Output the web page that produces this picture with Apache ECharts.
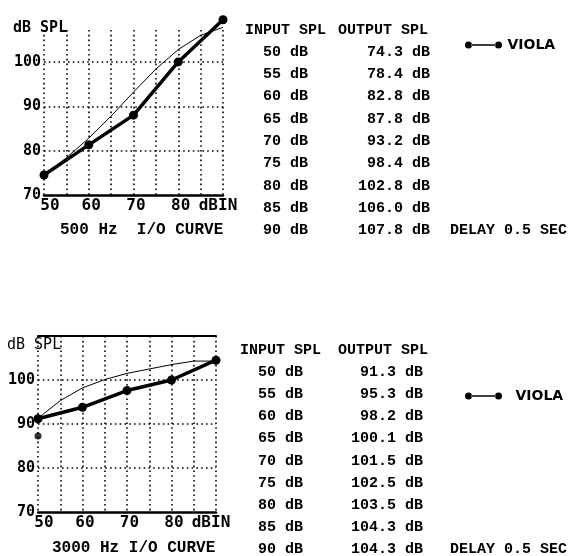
<!DOCTYPE html>
<html>
<head>
<meta charset="utf-8">
<script src="https://cdn.jsdelivr.net/npm/echarts@6/dist/echarts.min.js"></script>
<style>
  html, body { margin: 0; padding: 0; background: #fff; }
  #chart { width: 578px; height: 556px; }
</style>
</head>
<body>
<div id="chart"></div>
<script>
// Input levels of the I/O table (dB SPL in)
const inputLevels = [50, 55, 60, 65, 70, 75, 80, 85, 90];
// Target output SPL at 500 Hz and 3000 Hz
const output500 = [74.3, 78.4, 82.8, 87.8, 93.2, 98.4, 102.8, 106.0, 107.8];
const output3000 = [91.3, 95.3, 98.2, 100.1, 101.5, 102.5, 103.5, 104.3, 104.3];
// Measured VIOLA curve points
const violaInputs = [50, 60, 70, 80, 90];
const viola500 = [74.5, 81.3, 88.0, 100.0, 109.5];
const viola3000 = [91.2, 93.8, 97.6, 100.0, 104.5];
const viola3000Extra = [[50, 87.3]];
// Axis tick labels
const xTickLabels = { 50: '50', 60: '60', 70: '70', 80: '80', 90: 'dBIN' };
const yTickLabels = { 70: '70', 80: '80', 90: '90', 100: '100' };
const curveTitles = ['500 Hz  I/O CURVE', '3000 Hz I/O CURVE'];
const delayText = 'DELAY 0.5 SEC';

const BLACK = '#000';
const MONO = "'DejaVu Sans Mono', monospace";
const TABLE_FONT = "bold 15px 'Liberation Mono', monospace";

function pairs(xs, ys) { return xs.map((x, i) => [x, ys[i]]); }

function xAxisFor(grid) {
  return {
    type: 'value', gridIndex: grid, min: 50, max: 90, interval: 5,
    axisLine: { show: true, onZero: false, lineStyle: { color: BLACK, width: 2.5 } },
    axisTick: { show: false },
    splitLine: { show: true, lineStyle: { color: BLACK, width: 1.6, type: [1.6, 3.2] } },
    axisLabel: {
      margin: 3, color: BLACK, fontFamily: MONO, fontWeight: 'bold', fontSize: 16,
      showMinLabel: true, showMaxLabel: true,
      formatter: v => {
        const t = xTickLabels[v];
        if (!t) return '';
        if (v === 50) return '{first|' + t + '}';
        if (v === 90) return '{last|' + t + '}';
        return '{mid|' + t + '}';
      },
      rich: {
        first: { padding: [0, 0, 0, 12], fontFamily: MONO, fontWeight: 'bold', fontSize: 16, color: BLACK },
        mid: { padding: [0, 0, 0, 5], fontFamily: MONO, fontWeight: 'bold', fontSize: 16, color: BLACK },
        last: { padding: [0, 10, 0, 0], fontFamily: MONO, fontWeight: 'bold', fontSize: 16, color: BLACK }
      }
    }
  };
}

function yAxisFor(grid, max) {
  return {
    type: 'value', gridIndex: grid, min: 70, max: max, interval: 10,
    axisLine: { show: false },
    axisTick: { show: false },
    splitLine: { show: true, showMinLine: false, showMaxLine: false,
      lineStyle: { color: BLACK, width: 1.6, type: [1.6, 3.2] } },
    axisLabel: {
      margin: 3, color: BLACK, fontFamily: MONO, fontWeight: 'bold', fontSize: 15,
      showMaxLabel: false,
      formatter: v => yTickLabels[v] || ''
    }
  };
}

// Table of input / output levels, one row per input level
function tableGraphics(outputs, inputX, outputRight, headerY, rowY0, rowStep) {
  const els = [
    { type: 'text', x: inputX - 18, y: headerY, style: { text: 'INPUT SPL', font: TABLE_FONT, fill: BLACK, verticalAlign: 'middle' } },
    { type: 'text', x: 338, y: headerY, style: { text: 'OUTPUT SPL', font: TABLE_FONT, fill: BLACK, verticalAlign: 'middle' } }
  ];
  inputLevels.forEach((lv, i) => {
    const y = rowY0 + i * rowStep;
    els.push({ type: 'text', x: inputX, y: y, style: { text: lv + ' dB', font: TABLE_FONT, fill: BLACK, verticalAlign: 'middle' } });
    els.push({ type: 'text', x: outputRight, y: y, style: { text: outputs[i].toFixed(1) + ' dB', font: TABLE_FONT, fill: BLACK, align: 'right', verticalAlign: 'middle' } });
  });
  els.push({ type: 'text', x: 450, y: rowY0 + 8 * rowStep, style: { text: delayText, font: TABLE_FONT, fill: BLACK, verticalAlign: 'middle' } });
  return els;
}

// Legend glyph: dot, connecting line, dot
const legendIcon = 'path://M0.5,4a3.5,3.5 0 1,0 7,0a3.5,3.5 0 1,0 -7,0Z M7,3.3H31V4.7H7Z M30.5,4a3.5,3.5 0 1,0 7,0a3.5,3.5 0 1,0 -7,0Z';
const legendText = { fontFamily: "'DejaVu Sans', sans-serif", fontWeight: 'bold', fontSize: 14, color: BLACK };
const CAPTION_FONT = "bold 16px 'Liberation Mono', monospace";

const chart = echarts.init(document.getElementById('chart'), null, { renderer: 'canvas' });

const option = {
  animation: false,
  backgroundColor: '#fff',
  grid: [
    { left: 44, top: 30, width: 179, height: 165 },
    { left: 38, top: 336, width: 178, height: 176 }
  ],
  xAxis: [
    xAxisFor(0),
    xAxisFor(1),
    { type: 'value', gridIndex: 1, position: 'top', min: 50, max: 90,
      axisLine: { show: true, onZero: false, lineStyle: { color: BLACK, width: 2 } },
      axisTick: { show: false }, axisLabel: { show: false }, splitLine: { show: false } }
  ],
  yAxis: [ yAxisFor(0, 107.2), yAxisFor(1, 110) ],
  legend: [
    { data: ['VIOLA'], left: 460, top: 33, icon: legendIcon, itemWidth: 38, itemHeight: 7, itemGap: 0,
      selectedMode: false, textStyle: Object.assign({ padding: [0, 0, 0, 0] }, legendText) },
    { data: ['VIOLA'], left: 460, top: 384, icon: legendIcon, itemWidth: 38, itemHeight: 7, itemGap: 0,
      selectedMode: false, textStyle: Object.assign({ padding: [0, 0, 0, 8] }, legendText) }
  ],
  graphic: [
    { type: 'text', x: 13, y: 28, style: { text: 'dB SPL', font: "bold 15px " + MONO, fill: BLACK, verticalAlign: 'middle' } },
    { type: 'text', x: 7, y: 345, style: { text: 'dB SPL', font: "15px " + MONO, fill: BLACK, verticalAlign: 'middle' } },
    { type: 'text', x: 60, y: 230, style: { text: curveTitles[0], font: CAPTION_FONT, fill: BLACK, verticalAlign: 'middle' } },
    { type: 'text', x: 52, y: 548, style: { text: curveTitles[1], font: CAPTION_FONT, fill: BLACK, verticalAlign: 'middle' } }
  ]
    .concat(tableGraphics(output500, 263, 430, 30, 52, 22.3))
    .concat(tableGraphics(output3000, 258, 423, 350, 372, 22.2)),
  series: [
    { name: 'target500', type: 'line', xAxisIndex: 0, yAxisIndex: 0, data: pairs(inputLevels, output500),
      symbol: 'none', lineStyle: { color: BLACK, width: 1 }, itemStyle: { color: BLACK }, clip: false, z: 3 },
    { name: 'VIOLA', type: 'line', xAxisIndex: 0, yAxisIndex: 0, data: pairs(violaInputs, viola500),
      symbol: 'circle', symbolSize: 9, lineStyle: { color: BLACK, width: 3.5 }, itemStyle: { color: BLACK }, clip: false, z: 4 },
    { name: 'target3000', type: 'line', xAxisIndex: 1, yAxisIndex: 1, data: pairs(inputLevels, output3000),
      symbol: 'none', lineStyle: { color: BLACK, width: 1 }, itemStyle: { color: BLACK }, clip: false, z: 3 },
    { name: 'VIOLA', type: 'line', xAxisIndex: 1, yAxisIndex: 1, data: pairs(violaInputs, viola3000),
      symbol: 'circle', symbolSize: 9, lineStyle: { color: BLACK, width: 3.5 }, itemStyle: { color: BLACK }, clip: false, z: 4 },
    { name: 'VIOLA', type: 'scatter', xAxisIndex: 1, yAxisIndex: 1, data: viola3000Extra,
      symbol: 'circle', symbolSize: 7, itemStyle: { color: BLACK }, clip: false, z: 4 }
  ]
};

chart.setOption(option);
</script>
</body>
</html>
